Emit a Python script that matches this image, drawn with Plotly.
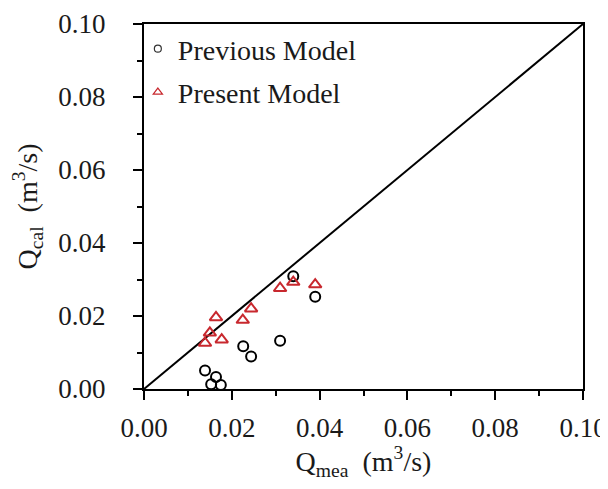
import plotly.graph_objects as go

prev_x = [0.0139, 0.0153, 0.0164, 0.0175, 0.0226, 0.0244, 0.0310, 0.0340, 0.0390]
prev_y = [0.0051, 0.0013, 0.0033, 0.0011, 0.0117, 0.0089, 0.0132, 0.0309, 0.0253]
pres_x = [0.0139, 0.0150, 0.0164, 0.0177, 0.0225, 0.0244, 0.0310, 0.0340, 0.0390]
pres_y = [0.0126, 0.0154, 0.0196, 0.0135, 0.0189, 0.0220, 0.0276, 0.0293, 0.0286]
line_x = [0.0, 0.1]
line_y = [0.0, 0.1]

RED = "#c8282e"
FONT = "Liberation Serif"
TXT = "#1a1a1a"

fig = go.Figure()
fig.add_trace(go.Scatter(x=line_x, y=line_y, mode="lines",
                         line=dict(color="black", width=2), showlegend=False))
fig.add_trace(go.Scatter(x=prev_x, y=prev_y, mode="markers", showlegend=False,
                         marker=dict(symbol="circle-open", size=10, color="black",
                                     line=dict(width=2, color="black"))))
fig.add_trace(go.Scatter(x=pres_x, y=pres_y, mode="markers", showlegend=False,
                         marker=dict(symbol="triangle-up-open", size=11, color=RED,
                                     line=dict(width=2, color=RED))))
# legend entries
fig.add_trace(go.Scatter(x=[None], y=[None], mode="markers", name="Previous Model",
                         legendgroup="a",
                         marker=dict(symbol="circle-open", size=7, color="#333",
                                     line=dict(width=1.2, color="#333"))))
fig.add_trace(go.Scatter(x=[None], y=[None], mode="markers", name="Present Model",
                         legendgroup="b",
                         marker=dict(symbol="triangle-up-open", size=8, color=RED,
                                     line=dict(width=1.2, color=RED))))

axis_common = dict(
    range=[0, 0.1], dtick=0.02, tickformat=".2f",
    showgrid=False, zeroline=False, automargin=False, ticklabeloverflow="allow",
    showline=True, linecolor="black", linewidth=2, mirror=True,
    ticks="outside", ticklen=9, tickwidth=1.5, tickcolor="black",
    minor=dict(dtick=0.01, ticks="outside", ticklen=5, tickwidth=1.5, tickcolor="black"),
    tickfont=dict(family=FONT, size=27, color=TXT),
)

fig.update_layout(
    width=600, height=473,
    margin=dict(l=136, r=25, t=16, b=92),
    paper_bgcolor="white", plot_bgcolor="white",
    font=dict(family=FONT, size=28, color=TXT),
    xaxis=dict(**axis_common, ticklabelstandoff=5,
               title=dict(text="Q<sub>mea</sub>  (m<sup>3</sup>/s)",
                          font=dict(family=FONT, size=28, color=TXT), standoff=16)),
    yaxis=dict(**axis_common, ticklabelstandoff=22,
               title=dict(text="Q<sub>cal</sub>  (m<sup>3</sup>/s)",
                          font=dict(family=FONT, size=28, color=TXT), standoff=22)),
    legend=dict(x=-0.014, y=1.0, xanchor="left", yanchor="top",
                bgcolor="rgba(0,0,0,0)", borderwidth=0,
                font=dict(family=FONT, size=28, color=TXT),
                traceorder="grouped", tracegroupgap=4, itemwidth=30),
)

fig.write_html("out.html")
